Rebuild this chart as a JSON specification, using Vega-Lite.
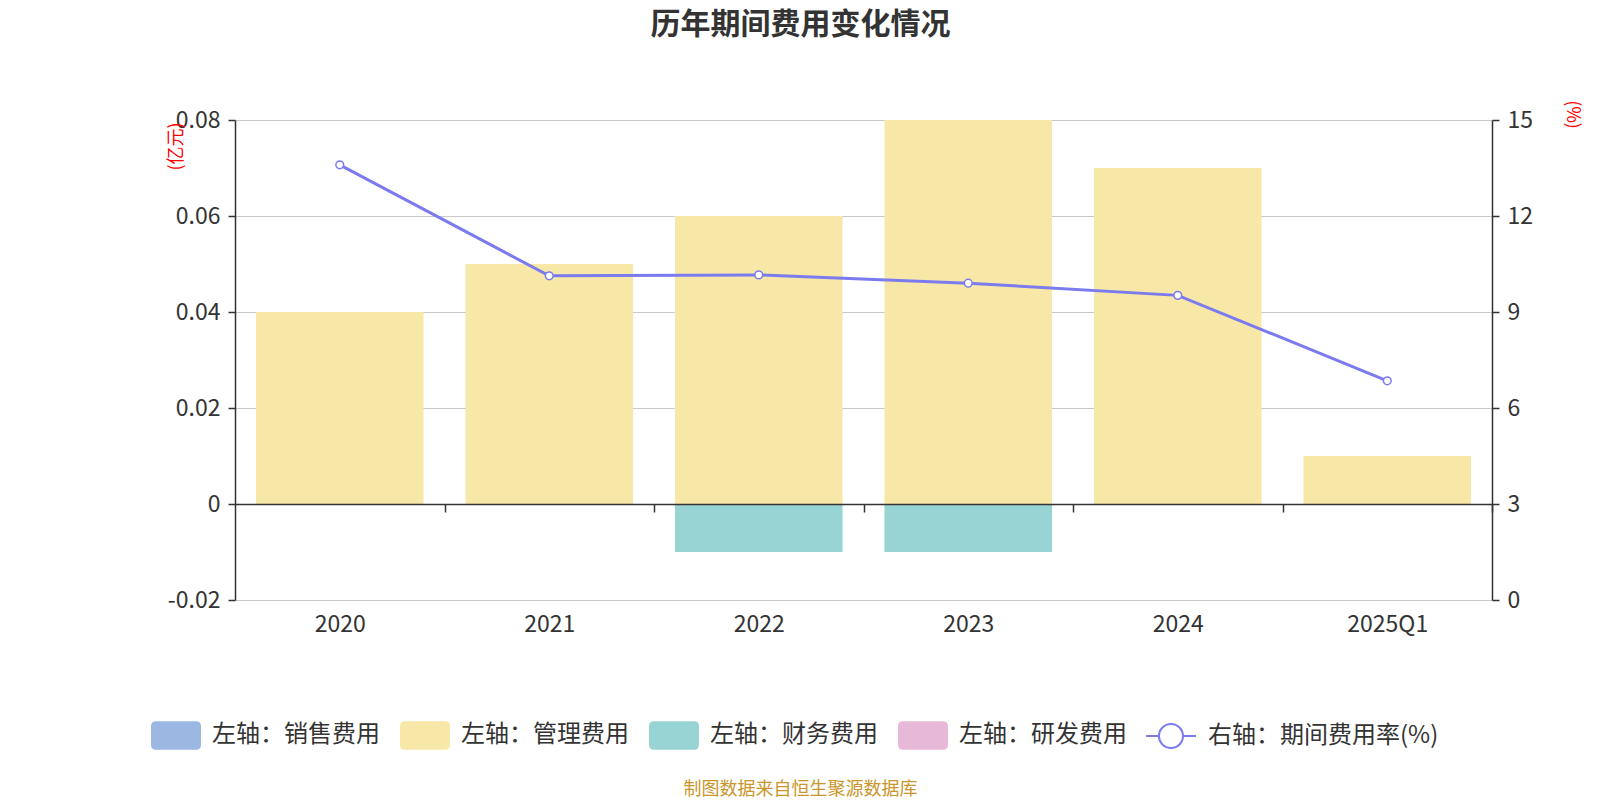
{
  "$schema": "https://vega.github.io/schema/vega-lite/v6.json",
  "width": 1257,
  "height": 480,
  "autosize": {"type": "none"},
  "padding": {"left": 235, "top": 120, "right": 108, "bottom": 200},
  "background": "white",
  "config": {
    "font": "Noto Sans CJK SC",
    "view": {"stroke": null},
    "axis": {"labelFont": "Noto Sans CJK SC", "titleFont": "Noto Sans CJK SC"},
    "legend": {"labelFont": "Noto Sans CJK SC"}
  },
  "title": {
    "text": "历年期间费用变化情况",
    "fontSize": 30,
    "fontWeight": "bold",
    "color": "#333333",
    "anchor": "middle",
    "dx": -63,
    "offset": 60
  },
  "datasets": {
    "bars": [
      {"year": "2020", "series": "左轴：销售费用", "value": 0},
      {"year": "2020", "series": "左轴：管理费用", "value": 0.04},
      {"year": "2020", "series": "左轴：财务费用", "value": 0},
      {"year": "2020", "series": "左轴：研发费用", "value": 0},
      {"year": "2021", "series": "左轴：销售费用", "value": 0},
      {"year": "2021", "series": "左轴：管理费用", "value": 0.05},
      {"year": "2021", "series": "左轴：财务费用", "value": 0},
      {"year": "2021", "series": "左轴：研发费用", "value": 0},
      {"year": "2022", "series": "左轴：销售费用", "value": 0},
      {"year": "2022", "series": "左轴：管理费用", "value": 0.06},
      {"year": "2022", "series": "左轴：财务费用", "value": -0.01},
      {"year": "2022", "series": "左轴：研发费用", "value": 0},
      {"year": "2023", "series": "左轴：销售费用", "value": 0},
      {"year": "2023", "series": "左轴：管理费用", "value": 0.08},
      {"year": "2023", "series": "左轴：财务费用", "value": -0.01},
      {"year": "2023", "series": "左轴：研发费用", "value": 0},
      {"year": "2024", "series": "左轴：销售费用", "value": 0},
      {"year": "2024", "series": "左轴：管理费用", "value": 0.07},
      {"year": "2024", "series": "左轴：财务费用", "value": 0},
      {"year": "2024", "series": "左轴：研发费用", "value": 0},
      {"year": "2025Q1", "series": "左轴：销售费用", "value": 0},
      {"year": "2025Q1", "series": "左轴：管理费用", "value": 0.01},
      {"year": "2025Q1", "series": "左轴：财务费用", "value": 0},
      {"year": "2025Q1", "series": "左轴：研发费用", "value": 0}
    ],
    "rates": [
      {"year": "2020", "series": "右轴：期间费用率(%)", "rate": 13.6},
      {"year": "2021", "series": "右轴：期间费用率(%)", "rate": 10.13},
      {"year": "2022", "series": "右轴：期间费用率(%)", "rate": 10.16},
      {"year": "2023", "series": "右轴：期间费用率(%)", "rate": 9.9},
      {"year": "2024", "series": "右轴：期间费用率(%)", "rate": 9.52},
      {"year": "2025Q1", "series": "右轴：期间费用率(%)", "rate": 6.85}
    ]
  },
  "encoding": {
    "x": {
      "field": "year",
      "type": "nominal",
      "sort": null,
      "scale": {"paddingInner": 0.2, "paddingOuter": 0.1},
      "axis": {
        "orient": "bottom",
        "offset": -96,
        "zindex": 1,
        "labelAngle": 0,
        "labelFontSize": 23,
        "labelColor": "#333333",
        "labelPadding": 101,
        "labelBaseline": "top",
        "tickOffset": 104.75,
        "labelOffset": -104.75,
        "tickSize": 8,
        "tickColor": "#333333",
        "tickWidth": 1.5,
        "domainColor": "#333333",
        "domainWidth": 1.5,
        "grid": false,
        "title": "制图数据来自恒生聚源数据库",
        "titleFontSize": 18,
        "titleFontWeight": "normal",
        "titleColor": "#c8962a",
        "titleX": 565,
        "titleY": 285,
        "titleAlign": "center",
        "titleBaseline": "middle"
      }
    }
  },
  "layer": [
    {
      "data": {"name": "bars"},
      "mark": {"type": "bar"},
      "encoding": {
        "y": {
          "field": "value",
          "type": "quantitative",
          "stack": "zero",
          "scale": {"domain": [-0.02, 0.08], "nice": false, "zero": false},
          "axis": {
            "orient": "left",
            "values": [-0.02, 0, 0.02, 0.04, 0.06, 0.08],
            "labelExpr": "datum.value == 0 ? '0' : (datum.value < 0 ? '-' + format(-datum.value, '.2f') : format(datum.value, '.2f'))",
            "labelFontSize": 23,
            "labelColor": "#333333",
            "labelPadding": 8,
            "tickSize": 7,
            "tickColor": "#333333",
            "tickWidth": 1.5,
            "domainColor": "#333333",
            "domainWidth": 1.5,
            "grid": true,
            "gridColor": "#c8c8c8",
            "gridWidth": 1.2,
            "title": "(亿元)",
            "titleColor": "#ff0000",
            "titleFontSize": 18,
            "titleFontWeight": "normal",
            "titleAngle": -90,
            "titleX": -59,
            "titleY": 26,
            "titleAlign": "center",
            "titleBaseline": "middle"
          }
        },
        "fill": {
          "field": "series",
          "type": "nominal",
          "scale": {
            "domain": ["左轴：销售费用", "左轴：管理费用", "左轴：财务费用", "左轴：研发费用"],
            "range": ["#9cb8e2", "#f8e8a8", "#98d4d4", "#e8b8d8"]
          },
          "legend": {
            "title": null,
            "orient": "none",
            "direction": "horizontal",
            "legendX": -84,
            "legendY": 590,
            "symbolType": "M-0.8,-0.57 L0.8,-0.57 Q1,-0.57 1,-0.37 L1,0.37 Q1,0.57 0.8,0.57 L-0.8,0.57 Q-1,0.57 -1,0.37 L-1,-0.37 Q-1,-0.57 -0.8,-0.57 Z",
            "symbolSize": 2500,
            "symbolStrokeWidth": 0,
            "symbolOpacity": 1,
            "labelFontSize": 24,
            "labelColor": "#333333",
            "labelOffset": 11,
            "labelLimit": 300,
            "columnPadding": 20
          }
        }
      }
    },
    {
      "data": {"name": "rates"},
      "encoding": {
        "y": {
          "field": "rate",
          "type": "quantitative",
          "scale": {"domain": [0, 15], "nice": false},
          "axis": {
            "orient": "right",
            "values": [0, 3, 6, 9, 12, 15],
            "labelFontSize": 23,
            "labelColor": "#333333",
            "labelPadding": 8,
            "tickSize": 7,
            "tickColor": "#333333",
            "tickWidth": 1.5,
            "domainColor": "#333333",
            "domainWidth": 1.5,
            "grid": false,
            "title": "(%)",
            "titleColor": "#ff0000",
            "titleFontSize": 18,
            "titleFontWeight": "normal",
            "titleAngle": 90,
            "titleX": 79,
            "titleY": -6,
            "titleAlign": "center",
            "titleBaseline": "middle"
          }
        }
      },
      "layer": [
        {
          "mark": {"type": "line", "strokeWidth": 3},
          "encoding": {
            "stroke": {
              "field": "series",
              "type": "nominal",
              "scale": {"domain": ["右轴：期间费用率(%)"], "range": ["#7b7bef"]},
              "legend": {
                "title": null,
                "orient": "none",
                "legendX": 910,
                "legendY": 590,
                "symbolType": "M-1,0 L-0.48,0 M0.48,0 L1,0 M-0.48,0 A0.48,0.48 0 1,0 0.48,0 A0.48,0.48 0 1,0 -0.48,0 Z",
                "symbolSize": 2500,
                "symbolStrokeWidth": 2,
                "symbolFillColor": "#ffffff",
                "labelFontSize": 24,
                "labelColor": "#333333",
                "labelOffset": 11,
                "labelLimit": 300
              }
            }
          }
        },
        {
          "mark": {"type": "point", "shape": "circle", "filled": true, "fill": "#ffffff", "stroke": "#7b7bef", "strokeWidth": 1.5, "size": 60, "opacity": 1}
        }
      ]
    }
  ],
  "resolve": {"scale": {"y": "independent"}}
}
